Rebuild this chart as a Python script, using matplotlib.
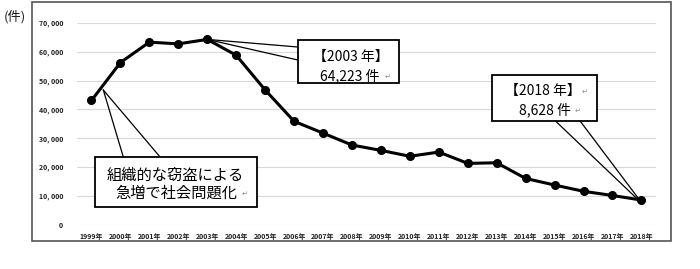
import matplotlib
matplotlib.use("Agg")
import matplotlib.pyplot as plt
from matplotlib.patches import Rectangle

plt.rcParams['font.family'] = ['Noto Sans CJK JP', 'DejaVu Sans']

years = [f"{y}年" for y in range(1999, 2019)]
counts = [43092, 56205, 63275, 62673, 64223, 58737, 46728, 35884, 31790, 27668,
          25815, 23775, 25238, 21319, 21529, 16104, 13821, 11655, 10213, 8628]
yticks = [0, 10000, 20000, 30000, 40000, 50000, 60000, 70000]
ytick_labels = ["0", "10, 000", "20, 000", "30, 000", "40, 000", "50, 000", "60, 000", "70, 000"]

fig = plt.figure(figsize=(7, 2.69), dpi=100)
ax = fig.add_axes([0.11, 0.1636, 0.827, 0.752])

x = list(range(len(years)))
ax.plot(x, counts, color='black', lw=2.2, marker='o', markersize=5.5, zorder=5)
ax.set_xlim(-0.5, len(years) - 0.5)
ax.set_ylim(0, 70000)
ax.set_yticks(yticks)
ax.set_yticklabels(ytick_labels, fontsize=5, fontweight='bold', color='#222')
ax.set_xticks(x)
ax.set_xticklabels(years, fontsize=5, fontweight='bold', color='#222')
ax.tick_params(axis='y', length=0, pad=10)
ax.tick_params(axis='x', length=0, pad=6)
for s in ax.spines.values():
    s.set_visible(False)
ax.grid(axis='y', color='#d9d9d9', lw=0.8)
ax.set_axisbelow(True)

# outer frame
fig.patches.append(Rectangle((0.0457, 0.104), 0.913, 0.888, transform=fig.transFigure,
                             fill=False, ec='#555555', lw=1.2))
fig.text(0.005, 0.925, "(件)", fontsize=9.5, color='#222')


def callout(x0, x1, y0, y1, tip, base):
    ax.add_patch(Rectangle((x0, y0), x1 - x0, y1 - y0, fc='white', ec='black',
                           lw=1.3, zorder=7, clip_on=False))
    for b in base:
        ax.plot([tip[0], b[0]], [tip[1], b[1]], color='black', lw=0.9, zorder=6, clip_on=False)


RET = dict(fontsize=5, color='#888', va='center', ha='left', zorder=8)

# 2003 callout
callout(7.13, 10.64, 49130, 64010, (4, 64223), [(7.13, 61590), (7.13, 57090)])
ax.text(8.97, 58130, "【2003 年】", fontsize=10, va='center', ha='center', zorder=8)
ax.text(8.92, 51560, "64,223 件", fontsize=10, va='center', ha='center', zorder=8)
ax.text(10.12, 51300, "↵", **RET)

# 2018 callout
callout(13.84, 17.47, 35990, 51900, (19.04, 7270), [(16.03, 35990), (16.88, 35990)])
ax.text(15.61, 46370, "【2018 年】", fontsize=10, va='center', ha='center', zorder=8)
ax.text(16.95, 46100, "↵", **RET)
ax.text(15.66, 39790, "8,628 件", fontsize=10, va='center', ha='center', zorder=8)
ax.text(16.7, 39500, "↵", **RET)

# 1999-2000 callout
callout(0.13, 5.71, 6230, 23530, (0.41, 46700), [(1.10, 23530), (2.37, 23530)])
ax.text(2.89, 17300, "組織的な窃盗による", fontsize=11, va='center', ha='center', zorder=8)
ax.text(2.94, 11070, "急増で社会問題化", fontsize=11, va='center', ha='center', zorder=8)
ax.text(5.2, 10700, "↵", **RET)

fig.savefig("out.png", dpi=100)
